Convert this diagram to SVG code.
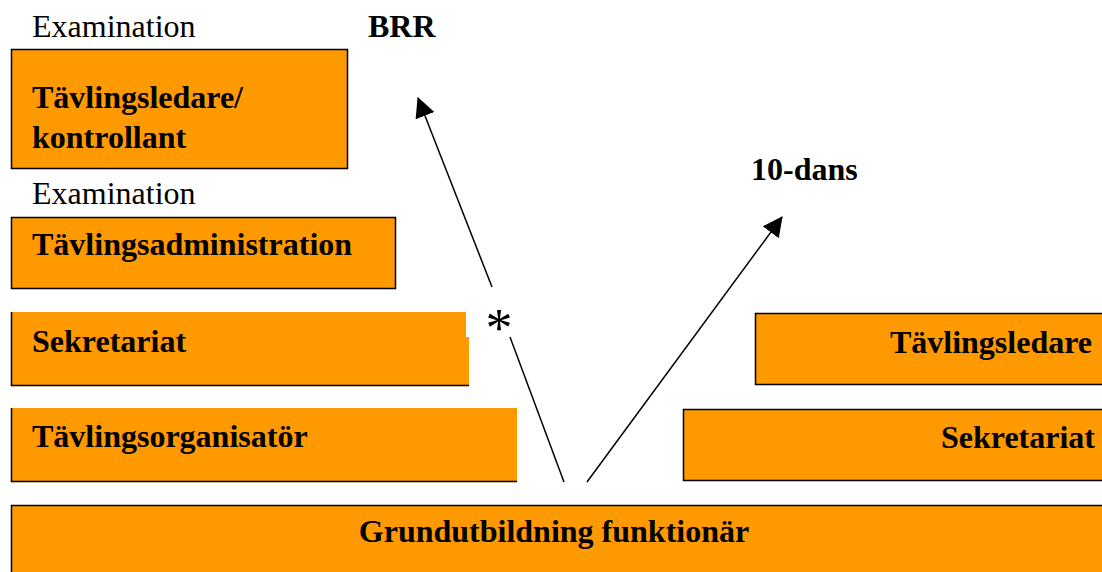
<svg xmlns="http://www.w3.org/2000/svg" width="1102" height="572" viewBox="0 0 1102 572">
<style>
.box{fill:#FF9900;stroke:#000;stroke-width:1.5}
.fill{fill:#FF9900;stroke:none}
.edge{stroke:#000;stroke-width:1.5;fill:none}
.t{font-family:"Liberation Serif","Times New Roman",serif;font-size:32px;fill:#000}
.b{font-weight:bold}
.conn{stroke:#000;stroke-width:1.5;fill:none}
</style>
<defs>
<marker id="ah" markerWidth="20" markerHeight="20" refX="19" refY="10" orient="auto" markerUnits="userSpaceOnUse">
<path d="M0,0 L20,10 L0,20 Z" fill="#000"/>
</marker>
</defs>
<rect width="1102" height="572" fill="#fff"/>
<text class="t" x="32" y="37">Examination</text>
<text class="t b" x="368" y="37">BRR</text>
<text class="t" x="32" y="204">Examination</text>
<text class="t b" x="751" y="180">10-dans</text>
<text class="t" x="499" y="346" text-anchor="middle" style="font-size:54px">*</text>

<g id="tavlingsledare-kontrollant">
<rect class="box" x="11.5" y="49.5" width="336" height="119"/>
<text class="t b" x="32" y="108">Tävlingsledare/</text>
<text class="t b" x="32" y="148">kontrollant</text>
</g>
<g id="tavlingsadministration">
<rect class="box" x="11.5" y="217.5" width="384" height="71"/>
<text class="t b" x="32" y="255">Tävlingsadministration</text>
</g>
<g id="sekretariat-left">
<path class="fill" d="M11,312 H466 V337 H469 V385 H11 Z"/>
<path class="edge" d="M11.5,312 V385.5 H469"/>
<text class="t b" x="32" y="352">Sekretariat</text>
</g>
<g id="tavlingsorganisator">
<rect class="fill" x="11" y="408" width="506" height="74"/>
<path class="edge" d="M11.5,408 V481.5 H517"/>
<text class="t b" x="32" y="447">Tävlingsorganisatör</text>
</g>
<g id="tavlingsledare-right">
<rect class="box" x="755.5" y="313.5" width="350" height="71"/>
<text class="t b" x="1092" y="353" text-anchor="end">Tävlingsledare</text>
</g>
<g id="sekretariat-right">
<rect class="box" x="683.5" y="409.5" width="422" height="71"/>
<text class="t b" x="1095" y="448" text-anchor="end">Sekretariat</text>
</g>
<g id="grundutbildning">
<rect class="box" x="11.5" y="505.5" width="1094" height="70"/>
<text class="t b" x="554" y="542" text-anchor="middle">Grundutbildning funktionär</text>
</g>

<g id="connectors">
<line class="conn" x1="564" y1="482" x2="510" y2="337"/>
<line class="conn" x1="492" y1="287" x2="418" y2="98" marker-end="url(#ah)"/>
<line class="conn" x1="587" y1="482" x2="782" y2="217" marker-end="url(#ah)"/>
</g>
</svg>
